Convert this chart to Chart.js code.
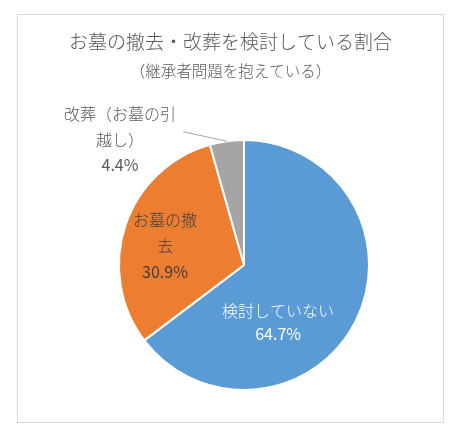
<!DOCTYPE html>
<html>
<head>
<meta charset="utf-8">
<script src="https://cdn.jsdelivr.net/npm/chart.js@4.4.0/dist/chart.umd.min.js"></script>
<style>
  html, body { margin: 0; padding: 0; background: #fff; }
  #box {
    position: absolute; left: 17px; top: 14px;
    width: 427px; height: 409px;
    box-sizing: border-box; border: 1px solid #d9d9d9;
  }
</style>
</head>
<body>
<div id="box"><canvas id="pieChart"></canvas></div>
<script>
const titleText = 'お墓の撤去・改葬を検討している割合';
const subtitleText = '（継承者問題を抱えている）';
const categories = ['検討していない', 'お墓の撤去', '改葬（お墓の引越し）'];
const shares = [64.7, 30.9, 4.4];
const sliceColors = ['#5b9bd5', '#ed7d31', '#a5a5a5'];

const FONT = '"Noto Sans CJK JP", "Noto Sans", sans-serif';

// wrap a label by measured width, character by character (Japanese has no spaces)
function wrap(ctx, text, maxW) {
    const lines = [];
    let cur = '';
    for (const ch of text) {
        if (cur && ctx.measureText(cur + ch).width > maxW) {
            lines.push(cur);
            cur = ch;
        } else {
            cur += ch;
        }
    }
    if (cur) lines.push(cur);
    return lines;
}

const headings = {
    id: 'headings',
    afterDraw(chart, args, opts) {
        const ctx = chart.ctx;
        const cx = chart.width / 2;
        ctx.save();
        ctx.textAlign = 'center';
        ctx.textBaseline = 'middle';
        ctx.fillStyle = '#595959';
        ctx.font = '300 19px ' + FONT;
        ctx.fillText(titleText, cx, opts.titleY);
        ctx.font = '300 15.5px ' + FONT;
        ctx.fillText(subtitleText, cx, opts.subtitleY);
        ctx.restore();
    }
};

const sliceLabels = {
    id: 'sliceLabels',
    afterDatasetsDraw(chart, args, opts) {
        const ctx = chart.ctx;
        const meta = chart.getDatasetMeta(0);
        const nameFont = '300 ' + opts.size + 'px ' + FONT;
        const pctFont = '400 ' + opts.size + 'px ' + FONT;
        ctx.save();
        ctx.textAlign = 'center';
        ctx.textBaseline = 'middle';
        meta.data.forEach((arc, i) => {
            const p = arc.getProps(['x', 'y', 'startAngle', 'endAngle', 'outerRadius'], true);
            const s = opts.slices[i];
            const mid = (p.startAngle + p.endAngle) / 2;
            const a = mid + s.shift * Math.PI / 180;
            const lx = p.x + Math.cos(a) * p.outerRadius * s.dist;
            const ly = p.y + Math.sin(a) * p.outerRadius * s.dist;
            ctx.font = nameFont;
            const lines = wrap(ctx, categories[i], s.maxWidth);
            const n = lines.length + 1;
            const top = ly - (n - 1) * s.lineHeight / 2;
            ctx.fillStyle = s.color;
            lines.forEach((t, j) => ctx.fillText(t, lx, top + j * s.lineHeight));
            ctx.font = pctFont;
            ctx.fillText(shares[i].toFixed(1) + '%', lx, top + (n - 1) * s.lineHeight);

            if (s.leader) {
                const ex = p.x + Math.cos(mid) * p.outerRadius;
                const ey = p.y + Math.sin(mid) * p.outerRadius;
                ctx.strokeStyle = '#a6a6a6';
                ctx.lineWidth = 1;
                ctx.beginPath();
                ctx.moveTo(lx + s.leader[0], ly + s.leader[1]);
                ctx.lineTo(ex, ey);
                ctx.stroke();
            }
        });
        ctx.restore();
    }
};

new Chart(document.getElementById('pieChart'), {
    type: 'pie',
    data: {
        labels: categories,
        datasets: [{
            data: shares,
            backgroundColor: sliceColors,
            borderColor: '#ffffff',
            borderWidth: 2
        }]
    },
    options: {
        responsive: true,
        maintainAspectRatio: false,
        animation: false,
        layout: {
            padding: { top: 124, bottom: 31, left: 100, right: 73 }
        },
        plugins: {
            legend: { display: false },
            tooltip: { enabled: false },
            headings: { titleY: 27, subtitleY: 56 },
            sliceLabels: {
                size: 16,
                slices: [
                    { shift: 32.9, dist: 0.535, maxWidth: 200, lineHeight: 23, color: '#ffffff' },
                    { shift: -5, dist: 0.65, maxWidth: 66, lineHeight: 26, color: '#404040' },
                    { shift: -36.8, dist: 1.41, maxWidth: 118, lineHeight: 25.5, color: '#595959', leader: [63, -8] }
                ]
            }
        }
    },
    plugins: [headings, sliceLabels]
});
</script>
</body>
</html>
